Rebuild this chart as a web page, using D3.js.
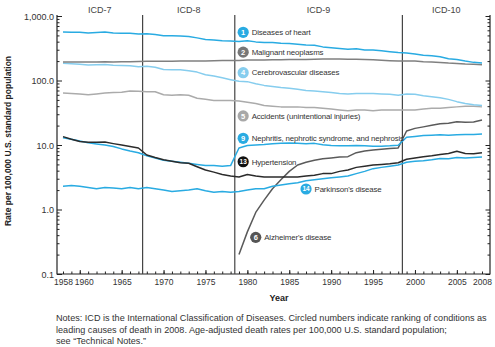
<!DOCTYPE html>
<html><head><meta charset="utf-8">
<script src="https://cdn.jsdelivr.net/npm/d3@7"></script>
<style>
html,body{margin:0;padding:0;background:#fff;}
svg{display:block;font-family:"Liberation Sans",Arial,Helvetica,sans-serif;}
</style></head>
<body><svg id="c" width="495" height="347"></svg>
<script>
const years = d3.range(1958, 2009);
const heart = [565,558,559,545,556,563,543,542,541,524,531,516,493,492,490,482,458,431,426,413,409,401,412,397,389,388,377,375,366,355,353,332,322,313,306,310,298,297,288,280,272,267,258,247,241,233,217,211,200,191,187];
const cancer = [194,194,194,193,194,195,194,195,196,197,198,198,199,199,200,200,201,200,203,204,205,204,208,207,208,209,210,211,211,212,213,215,216,215,214,214,211,209,206,203,201,201,200,196,194,190,186,184,180,179,175];
const stroke = [185,182,178,174,176,177,173,171,170,164,166,160,148,147,147,142,135,123,117,110,103,97,96,89,84,81,78,76,73,70,69,67,65,63,62,63,63,63,62,61,59,62,61,58,56,54,51,47,44,42,41];
const accidents = [64,63,62,60,62,64,65,66,69,68,67,67,60,59,60,59,53,51,49,49,49,48,46,44,41,40,39,39,39,38,38,37,36,35,34,35,35,34,35,35,35,35,35,36,37,37,38,39,40,40,39];
const nephritis = [13.0,12.3,11.5,10.8,10.4,10.0,9.5,8.7,8.1,7.6,6.8,6.3,5.8,5.6,5.4,5.2,5.0,4.8,4.8,4.7,4.8,9.0,9.8,10.0,10.2,10.5,10.6,10.7,10.6,10.5,10.6,10.1,9.8,9.7,9.7,9.8,9.7,9.6,9.6,9.7,9.9,13.2,13.6,14.0,14.2,14.4,14.2,14.4,14.6,14.6,14.8];
const hypertension = [13.5,12.3,11.3,11.0,11.0,11.1,10.5,10.0,9.5,9.0,7.0,6.4,5.9,5.6,5.3,5.2,4.6,4.1,3.8,3.5,3.3,3.2,3.5,3.3,3.2,3.2,3.2,3.2,3.2,3.3,3.4,3.6,3.6,3.9,4.1,4.5,4.7,4.9,5.0,5.1,5.3,6.0,6.3,6.6,6.8,7.1,7.4,8.0,7.4,7.3,7.6];
const parkinson = [2.3,2.35,2.3,2.2,2.1,2.2,2.15,2.1,2.2,2.1,2.2,2.1,2.0,1.9,1.95,2.0,2.1,1.95,1.85,1.9,1.85,1.9,2.0,2.1,2.1,2.3,2.4,2.5,2.6,2.8,2.9,3.0,3.1,3.2,3.3,3.6,3.9,4.3,4.5,4.7,4.9,5.4,5.6,5.7,5.9,6.2,6.1,6.4,6.3,6.4,6.5];
const alzheimer = [null,null,null,null,null,null,null,null,null,null,null,null,null,null,null,null,null,null,null,null,null,0.2,0.45,0.9,1.4,2.1,2.9,3.9,4.9,5.4,5.8,6.1,6.3,6.5,6.6,7.6,8.1,8.4,8.6,8.8,9.0,16.5,18.1,19.1,20.2,21.4,21.8,22.9,22.6,22.7,24.4];

const seriesNames = ["Diseases of heart","Malignant neoplasms","Cerebrovascular diseases","Accidents (unintentional injuries)","Nephritis, nephrotic syndrome, and nephrosis","Hypertension","Parkinson's disease","Alzheimer's disease"];
const seriesRanks = ["1","2","4","5","9","13","14","6"];
const seriesColors = ["#29abe2","#808080","#86cdee","#ababab","#29abe2","#2b2b2b","#29abe2","#5a5a5a"];
const badgeColors = ["#29abe2","#777777","#86cdee","#a8a8a8","#29abe2","#111111","#29abe2","#555555"];
const seriesData = [heart,cancer,stroke,accidents,nephritis,hypertension,parkinson,alzheimer];
const labelYear = [1979.5,1979.5,1979.5,1979.5,1979.5,1979.5,1987.0,1981.0];
const labelValue = [559,275,132,28.2,12.7,5.5,2.08,0.37];

const icdNames = ["ICD-7","ICD-8","ICD-9","ICD-10"];
const icdBreaks = [1967.5,1978.5,1998.5];
const yTickValues = [0.1,1,10,100,1000];
const yTickLabels = ["0.1","1.0","10.0","100.0","1,000.0"];
const xTickValues = [1958,1960,1965,1970,1975,1980,1985,1990,1995,2000,2005,2008];

const svg = d3.select("#c");
const x = d3.scaleLinear().domain([1958,2008]).range([63,482]);
const y = d3.scaleLog().domain([0.1,1000]).range([274,16]);
const axL = 57, axR = 490, axB = 274, axT = 15;

// minor y ticks
const minorY = [];
for (let e=-1;e<3;e++) for (let m=2;m<=9;m++) minorY.push(m*Math.pow(10,e));

const gL = svg.append("g").attr("transform",`translate(${axL},0)`);
gL.call(d3.axisLeft(y).tickValues(minorY).tickSizeInner(-2.5).tickSizeOuter(0).tickFormat(""));
gL.call(g=>g.select(".domain").remove());
const gL2 = svg.append("g").attr("transform",`translate(${axL},0)`);
gL2.call(d3.axisLeft(y).tickValues(yTickValues).tickSizeInner(-5).tickSizeOuter(0).tickPadding(3)
  .tickFormat((d,i)=>yTickLabels[i]));
gL2.select(".domain").remove();
gL2.selectAll("text").attr("font-size",9).attr("fill","#333").attr("font-family","Liberation Sans, Arial").attr("dy","0.35em");

const gR = svg.append("g").attr("transform",`translate(${axR},0)`);
gR.call(d3.axisRight(y).tickValues(minorY).tickSizeInner(-2.5).tickSizeOuter(0).tickFormat(""));
gR.select(".domain").remove();
const gR2 = svg.append("g").attr("transform",`translate(${axR},0)`);
gR2.call(d3.axisRight(y).tickValues(yTickValues).tickSizeInner(-4.5).tickSizeOuter(0).tickFormat(""));
gR2.select(".domain").remove();

const gB = svg.append("g").attr("transform",`translate(0,${axB})`);
gB.call(d3.axisBottom(x).tickValues(years).tickSizeInner(-2.5).tickSizeOuter(0).tickFormat(""));
gB.select(".domain").remove();
const gB2 = svg.append("g").attr("transform",`translate(0,${axB})`);
gB2.call(d3.axisBottom(x).tickValues(xTickValues.filter(v=>v%5===0)).tickSizeInner(-4).tickSizeOuter(0).tickFormat(""));
gB2.select(".domain").remove();
const gB3 = svg.append("g").attr("transform",`translate(0,${axB})`);
gB3.call(d3.axisBottom(x).tickValues(xTickValues).tickSize(0).tickPadding(5).tickFormat(d3.format("d")));
gB3.select(".domain").remove();
gB3.selectAll("text").attr("font-size",8.5).attr("fill","#333").attr("font-family","Liberation Sans, Arial")
  .attr("dx",d=>d===1960?4:0);

svg.selectAll(".tick line").attr("stroke","#222").attr("stroke-width",1);

// frame lines
const frame = svg.append("g").attr("stroke","#222").attr("stroke-width",1.2).attr("fill","none");
frame.append("line").attr("x1",axL).attr("x2",axL).attr("y1",axT).attr("y2",axB+0.5);
frame.append("line").attr("x1",axR).attr("x2",axR).attr("y1",axT).attr("y2",axB+0.5);
frame.append("line").attr("x1",axL).attr("x2",axR).attr("y1",axB).attr("y2",axB);

// ICD breaks
svg.append("g").selectAll("line").data(icdBreaks).join("line")
  .attr("x1",d=>x(d)).attr("x2",d=>x(d)).attr("y1",axT).attr("y2",axB)
  .attr("stroke","#444").attr("stroke-width",1.2);
const bounds = [axL, ...icdBreaks.map(x), axR];
svg.append("g").selectAll("text").data(icdNames).join("text")
  .attr("x",(d,i)=>(bounds[i]+bounds[i+1])/2).attr("y",13)
  .attr("text-anchor","middle").attr("font-size",9).attr("fill","#444").text(d=>d);

// lines
const line = d3.line().defined(d=>d[1]!=null).x(d=>x(d[0])).y(d=>y(d[1]));
const drawOrder = [3,2,1,0,7,4,6,5];
svg.append("g").attr("fill","none").attr("stroke-width",1.5).attr("stroke-linejoin","round")
  .selectAll("path").data(drawOrder).join("path")
  .attr("stroke",i=>seriesColors[i])
  .attr("d",i=>line(years.map((yr,k)=>[yr,seriesData[i][k]])));

// labels
const lg = svg.append("g").selectAll("g").data(seriesNames).join("g")
  .attr("transform",(d,i)=>`translate(${x(labelYear[i])},${y(labelValue[i])})`);
lg.append("circle").attr("r",5.6).attr("fill",(d,i)=>badgeColors[i]);
lg.append("text").attr("text-anchor","middle").attr("dy","0.35em")
  .attr("font-size",(d,i)=>seriesRanks[i].length>1?6.5:7.5).attr("font-weight","bold").attr("fill","#fff")
  .text((d,i)=>seriesRanks[i]);
lg.append("text").attr("x",8.5).attr("dy","0.35em").attr("font-size",7.9).attr("fill","#333")
  .attr("letter-spacing",-0.15).text(d=>d);

// axis titles
svg.append("text").attr("transform","translate(11,141) rotate(-90)").attr("text-anchor","middle")
  .attr("font-size",8.5).attr("font-weight","bold").attr("fill","#222")
  .text("Rate per 100,000 U.S. standard population");
svg.append("text").attr("x",279).attr("y",301).attr("text-anchor","middle")
  .attr("font-size",9).attr("font-weight","bold").attr("fill","#222").text("Year");

const notes = ["Notes: ICD is the International Classification of Diseases. Circled numbers indicate ranking of conditions as",
  "leading causes of death in 2008. Age-adjusted death rates per 100,000 U.S. standard population;",
  "see \u201cTechnical Notes.\u201d"];
svg.append("g").selectAll("text").data(notes).join("text")
  .attr("x",56).attr("y",(d,i)=>321+i*11.5).attr("font-size",9.1).attr("fill","#333").text(d=>d);
</script></body></html>
